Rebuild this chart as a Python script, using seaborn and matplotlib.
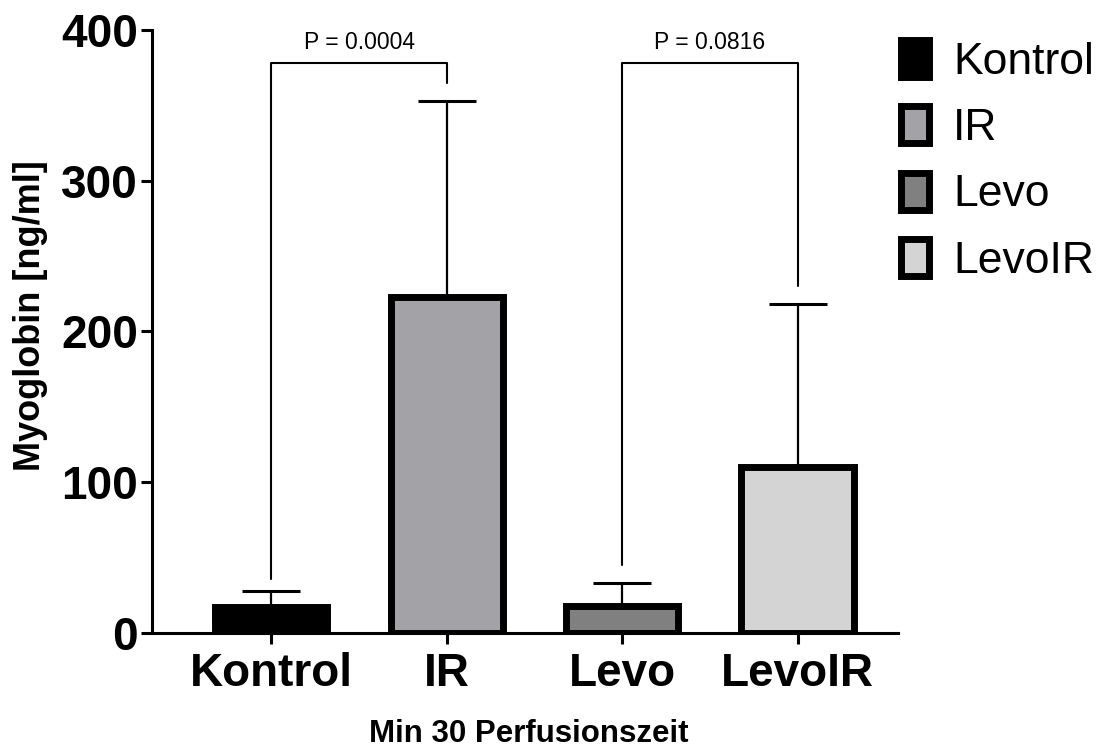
import matplotlib
matplotlib.use("Agg")
import matplotlib.pyplot as plt
import seaborn as sns
import pandas as pd
from matplotlib.patches import Patch

groups = ["Kontrol", "IR", "Levo", "LevoIR"]
means = [17, 223, 18, 110]
sd_upper = [11, 130, 15, 108]
colors = ["#000000", "#a3a2a7", "#808080", "#d4d4d4"]
pvals = ["P = 0.0004", "P = 0.0816"]
yticks = [0, 100, 200, 300, 400]

sns.set_theme(style="white")
plt.rcParams['font.family'] = ['Liberation Sans', 'DejaVu Sans']
for k in ["text.color", "axes.labelcolor", "xtick.color", "ytick.color", "axes.edgecolor"]:
    plt.rcParams[k] = "black"

df = pd.DataFrame({"group": groups, "value": means})

fig = plt.figure(figsize=(11.04, 7.49), dpi=100)
ax = fig.add_axes([0.1377, 0.155, 0.6753, 0.805])

sns.barplot(data=df, x="group", y="value", hue="group", palette=colors,
            saturation=1, width=0.64, edgecolor="black", linewidth=5,
            errorbar=None, legend=False, ax=ax, zorder=3)

xs = list(range(len(groups)))
ax.errorbar(xs, means, yerr=[[0] * 4, sd_upper], fmt="none", ecolor="black",
            elinewidth=1.6, capsize=21, capthick=2.2, zorder=2)

# significance brackets
def bracket(x1, x2, y, y1end, y2end, text):
    ax.plot([x1, x1, x2, x2], [y1end, y, y, y2end], color="black", lw=1.5,
            clip_on=False, zorder=4)
    ax.text((x1 + x2) / 2, y + 6, text, ha="center", va="bottom", fontsize=16.5)

bracket(0, 1, 378, means[0] + sd_upper[0] + 8, means[1] + sd_upper[1] + 12, pvals[0])
bracket(2, 3, 378, means[2] + sd_upper[2] + 12, means[3] + sd_upper[3] + 12, pvals[1])

ax.set_ylim(0, 400)
ax.set_xlim(-0.68, 3.57)
ax.set_yticks(yticks)
ax.set_yticklabels([str(t) for t in yticks], fontsize=33, fontweight="bold")
ax.set_xticks(xs)
ax.set_xticklabels(groups, fontsize=33, fontweight="bold")
ax.tick_params(axis="both", direction="out", length=8, width=2.2, color="black",
               left=True, bottom=True)
ax.tick_params(axis="y", pad=2)
ax.tick_params(axis="x", pad=6)

for s in ["top", "right"]:
    ax.spines[s].set_visible(False)
for s in ["left", "bottom"]:
    ax.spines[s].set_color("black")
    ax.spines[s].set_linewidth(2.2)

ax.set_ylabel("Myoglobin [ng/ml]", fontsize=26, fontweight="bold")
ax.yaxis.set_label_coords(-0.14, 0.527)
ax.set_xlabel("Min 30 Perfusionszeit", fontsize=22.5, fontweight="bold")
ax.xaxis.set_label_coords(0.505, -0.143)
ax.xaxis.label.set_va("top")

handles = [Patch(facecolor=c, edgecolor="black", linewidth=5, label=g)
           for g, c in zip(groups, colors)]
leg = fig.legend(handles=handles, loc="upper left", bbox_to_anchor=(901 / 1104, 1 - 40 / 749),
                 frameon=False, fontsize=32, handlelength=0.62, handleheight=0.9,
                 handletextpad=0.55, labelspacing=0.53, borderpad=0, borderaxespad=0)

fig.savefig("out.png", dpi=100)
